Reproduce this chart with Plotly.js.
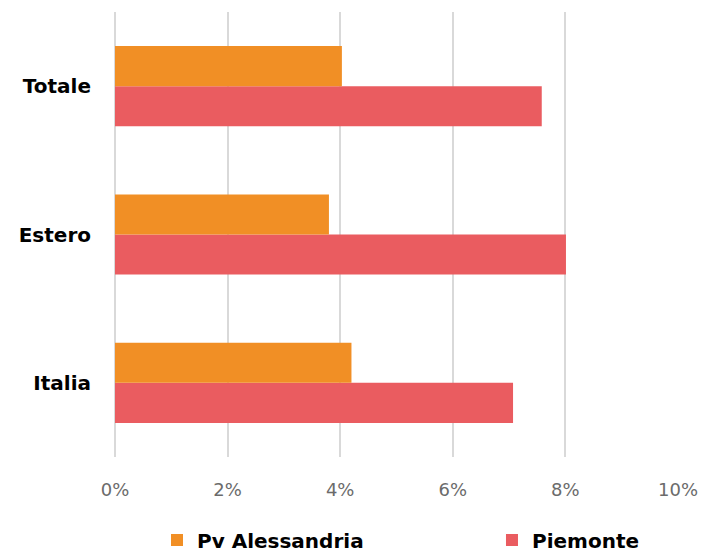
<!DOCTYPE html>
<html>
<head>
<meta charset="utf-8">
<script src="https://cdn.plot.ly/plotly-3.0.1.min.js"></script>
<style>html,body{margin:0;padding:0;background:#fff;}#chart{width:702px;height:553px;}</style>
</head>
<body>
<div id="chart"></div>
<script>
const categories = ['Italia', 'Estero', 'Totale'];
const seriesNames = ['Pv Alessandria', 'Piemonte'];
const pvAlessandria = [0.0420, 0.0380, 0.0403];
const piemonte = [0.0707, 0.0801, 0.0758];
const xTickVals = [0, 0.02, 0.04, 0.06, 0.08, 0.10];
const xTickText = ['0%', '2%', '4%', '6%', '8%', '10%'];

const traces = [
  {type: 'bar', orientation: 'h', name: seriesNames[1], y: categories, x: piemonte,
   marker: {color: '#EA5C60'}, legend: 'legend2'},
  {type: 'bar', orientation: 'h', name: seriesNames[0], y: categories, x: pvAlessandria,
   marker: {color: '#F18F25'}, legend: 'legend'}
];

const legendFont = {family: 'DejaVu Sans', size: 20, color: '#000', weight: 'bold'};

const layout = {
  width: 702, height: 553,
  margin: {l: 115, r: 24, t: 12, b: 96, autoexpand: false},
  paper_bgcolor: '#fff', plot_bgcolor: '#fff',
  barmode: 'group', bargap: 0.46, bargroupgap: 0,
  xaxis: {
    range: [0, 0.10], tickvals: xTickVals, ticktext: xTickText,
    showgrid: true, gridcolor: '#D9D9D9', gridwidth: 2,
    zeroline: true, zerolinecolor: '#D9D9D9', zerolinewidth: 2,
    showline: false, ticks: '', ticklabelstandoff: 20,
    tickfont: {family: 'DejaVu Sans', size: 18, color: '#6b6b6b'}
  },
  yaxis: {
    range: [-0.5, 2.5], showgrid: false, zeroline: false, showline: false,
    ticks: '', ticklabelstandoff: 23,
    tickfont: {family: 'DejaVu Sans', size: 20, color: '#000', weight: 'bold'}
  },
  showlegend: true,
  legend: {
    orientation: 'h', x: 0.0746, xanchor: 'left', y: -0.1865, yanchor: 'middle',
    font: legendFont
  },
  legend2: {
    orientation: 'h', x: 0.6696, xanchor: 'left', y: -0.1865, yanchor: 'middle',
    font: legendFont
  }
};

Plotly.newPlot('chart', traces, layout, {displayModeBar: false, staticPlot: true});
</script>
</body>
</html>
